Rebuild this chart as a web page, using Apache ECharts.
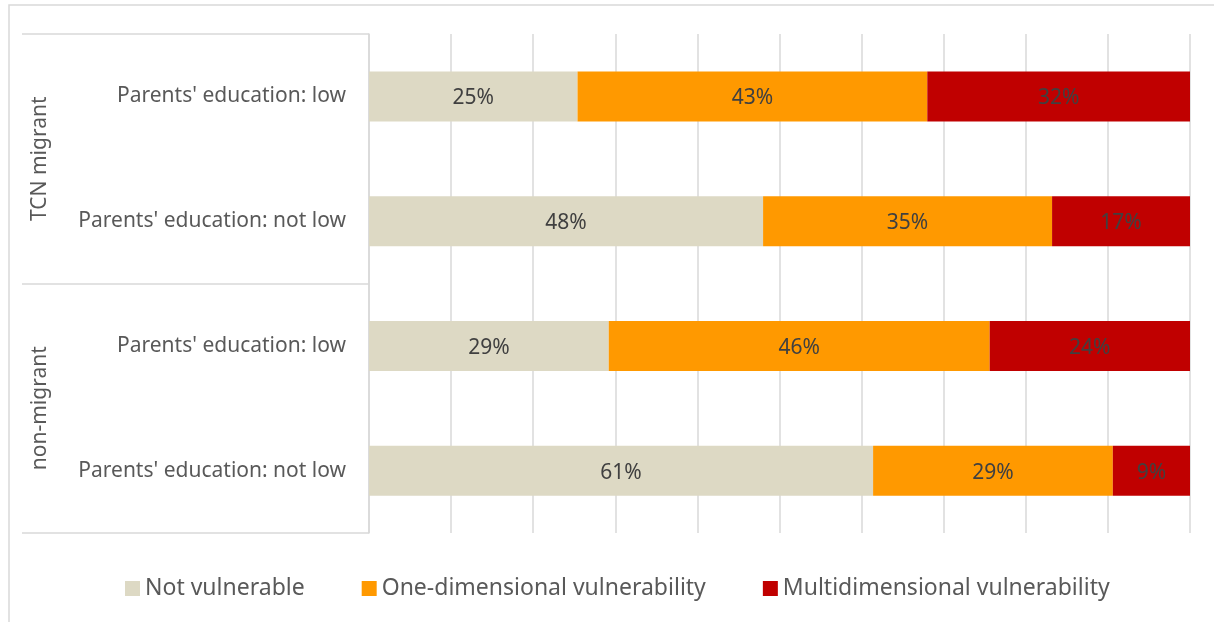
<!DOCTYPE html>
<html>
<head>
<meta charset="utf-8">
<script src="https://cdn.jsdelivr.net/npm/echarts@6/dist/echarts.min.js"></script>
<style>
html,body{margin:0;padding:0;background:#fff;}
#chart{width:1214px;height:622px;}
</style>
</head>
<body>
<div id="chart"></div>
<script>
const categories = ["Parents' education: low", "Parents' education: not low", "Parents' education: low", "Parents' education: not low"];
const groups = ["TCN migrant", "non-migrant"];
const seriesNames = ["Not vulnerable", "One-dimensional vulnerability", "Multidimensional vulnerability"];
const notVulnerable = [25.4, 48.0, 29.2, 61.4];
const oneDimensional = [42.6, 35.2, 46.4, 29.2];
const multiDimensional = [32.0, 16.8, 24.4, 9.4];
const colors = ["#DDD9C4", "#FF9900", "#C00000"];

const FONT = "Noto Sans";
const chart = echarts.init(document.getElementById('chart'), null, {renderer: 'canvas'});

function mkSeries(name, data, color) {
  return {
    name: name,
    type: 'bar',
    stack: 'total',
    yAxisIndex: 0,
    data: data,
    barWidth: 50,
    itemStyle: {color: color},
    label: {
      show: true,
      position: 'inside',
      offset: [0, 2],
      formatter: p => Math.round(p.value) + '%',
      fontFamily: FONT,
      fontSize: 21,
      color: '#404040'
    }
  };
}

chart.setOption({
  animation: false,
  textStyle: {fontFamily: FONT},
  graphic: [{
    type: 'rect',
    shape: {x: 9, y: 5, width: 1230, height: 640},
    style: {fill: 'none', stroke: '#d9d9d9', lineWidth: 1.5},
    silent: true,
    z: -10
  }],
  grid: {left: 369, right: 24, top: 34, bottom: 89},
  legend: {
    data: seriesNames,
    left: 120,
    top: 572,
    icon: 'rect',
    itemWidth: 15,
    itemHeight: 15,
    itemGap: 57,
    textStyle: {fontFamily: FONT, fontSize: 23, color: '#595959'}
  },
  xAxis: {
    type: 'value',
    min: 0,
    max: 100,
    interval: 10,
    axisLabel: {show: false},
    axisLine: {show: false},
    axisTick: {show: false},
    splitLine: {show: true, lineStyle: {color: '#d9d9d9', width: 1.5}}
  },
  yAxis: [{
    type: 'category',
    data: categories,
    inverse: true,
    axisLine: {show: true, lineStyle: {color: '#d9d9d9', width: 1.5}},
    axisTick: {show: false},
    axisLabel: {fontFamily: FONT, fontSize: 21, color: '#595959', margin: 23, lineHeight: 30, padding: [6, 0, 0, 0]}
  }, {
    type: 'category',
    data: groups,
    inverse: true,
    position: 'left',
    offset: 347,
    axisLine: {show: false},
    axisTick: {show: true, inside: true, length: 347, lineStyle: {color: '#d9d9d9', width: 1.5}},
    axisLabel: {inside: true, rotate: 90, margin: 8, fontFamily: FONT, fontSize: 21, color: '#595959'}
  }],
  series: [
    mkSeries(seriesNames[0], notVulnerable, colors[0]),
    mkSeries(seriesNames[1], oneDimensional, colors[1]),
    mkSeries(seriesNames[2], multiDimensional, colors[2])
  ]
});
</script>
</body>
</html>
